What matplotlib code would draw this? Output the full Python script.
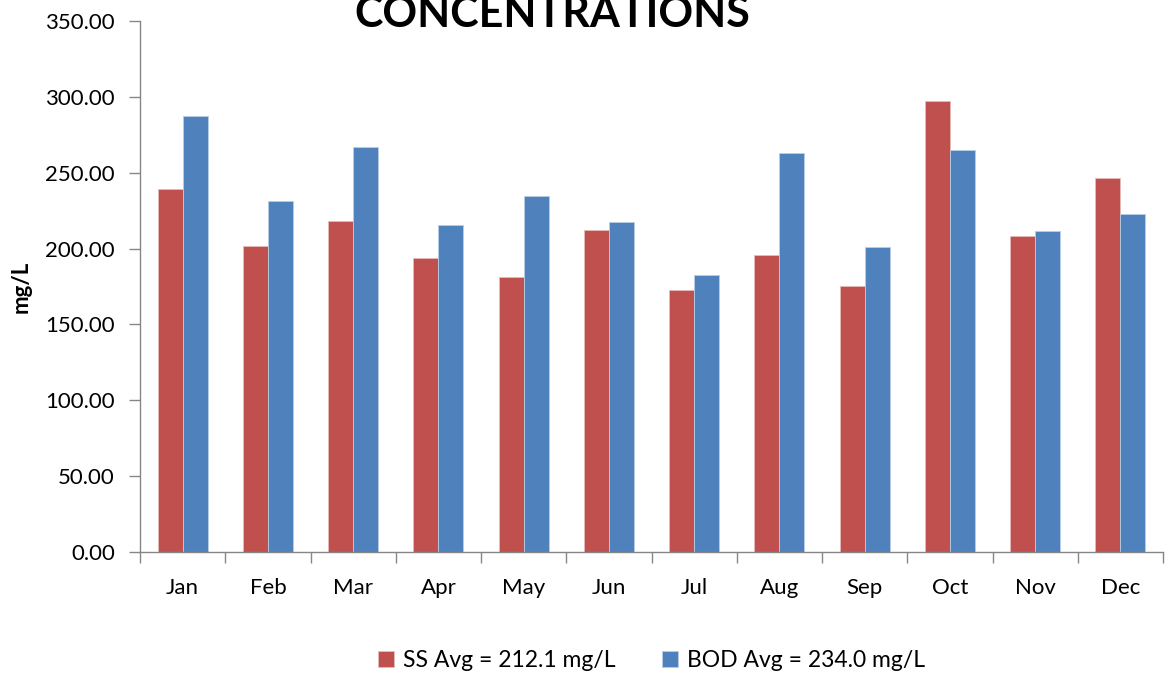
import numpy as np
import matplotlib
matplotlib.use("Agg")
import matplotlib.pyplot as plt
from matplotlib.ticker import FormatStrFormatter, FixedLocator

plt.rcParams['font.family'] = ['Lato', 'DejaVu Sans']

months = ["Jan", "Feb", "Mar", "Apr", "May", "Jun",
          "Jul", "Aug", "Sep", "Oct", "Nov", "Dec"]
ss_vals = [239.1, 201.5, 218.0, 193.6, 181.1, 212.3,
           172.7, 195.6, 175.3, 297.5, 208.1, 246.3]
bod_vals = [287.6, 231.4, 267.2, 215.3, 234.7, 217.3,
            182.8, 263.2, 201.3, 264.8, 211.4, 223.0]
ss_label = "SS Avg = 212.1 mg/L"
bod_label = "BOD Avg = 234.0 mg/L"

red = "#C0504D"
blue = "#4F81BD"
axis_gray = "#868686"

fig = plt.figure(figsize=(11.67, 6.77), dpi=100)
ax = fig.add_axes([0.12, 0.1846, 0.8766, 0.7844])

x = np.arange(len(months))
w = 0.293
ax.bar(x - w / 2, ss_vals, w, color=red, edgecolor="#E6B9B8", linewidth=0.6, label=ss_label)
ax.bar(x + w / 2, bod_vals, w, color=blue, edgecolor="#B9CDE5", linewidth=0.6, label=bod_label)

ax.set_xlim(-0.5, len(months) - 0.5)
ax.set_ylim(0, 350)
ax.set_yticks(np.arange(0, 351, 50))
ax.yaxis.set_major_formatter(FormatStrFormatter("%.2f"))

ax.set_xticks(x)
ax.set_xticklabels(months)
ax.xaxis.set_minor_locator(FixedLocator(np.arange(-0.5, len(months), 1.0)))
ax.tick_params(axis="x", which="major", length=0, pad=19, labelsize=16)
ax.tick_params(axis="x", which="minor", length=8, color=axis_gray, width=1)
ax.tick_params(axis="y", length=8, color=axis_gray, width=1, labelsize=16, pad=10)

for side in ["top", "right"]:
    ax.spines[side].set_visible(False)
for side in ["left", "bottom"]:
    ax.spines[side].set_color(axis_gray)
    ax.spines[side].set_linewidth(1)

ax.set_ylabel("mg/L", fontsize=16, fontweight="bold", labelpad=10)

fig.text(0.473, 0.960, "CONCENTRATIONS", ha="center", va="baseline",
         fontsize=31, fontweight="bold")

ax.legend(loc="center", bbox_to_anchor=(0.5, -0.205), ncol=2, frameon=False,
          fontsize=16.5, handlelength=0.7, handleheight=0.7, handletextpad=0.4,
          columnspacing=2.0)

fig.savefig("out.png", dpi=100)
